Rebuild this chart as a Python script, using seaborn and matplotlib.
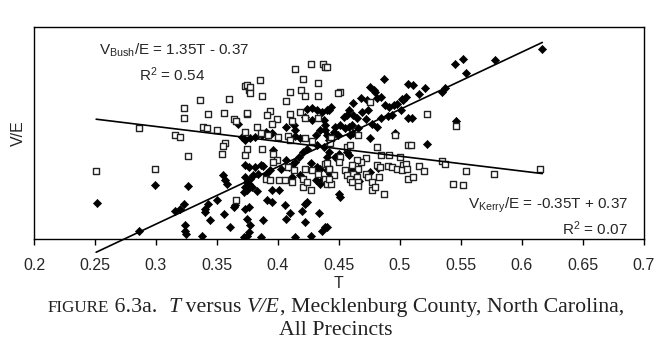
import numpy as np
import pandas as pd
import matplotlib
matplotlib.use("Agg")
import matplotlib.pyplot as plt
import seaborn as sns

# ---- data ----
bush_t = [0.252, 0.299, 0.286, 0.367, 0.371, 0.373, 0.373, 0.355, 0.357, 0.358,
          0.326, 0.373, 0.375, 0.373, 0.372, 0.350, 0.343, 0.340, 0.340, 0.323,
          0.316, 0.320, 0.364, 0.365, 0.356, 0.344, 0.324, 0.324, 0.325, 0.361,
          0.373, 0.375, 0.338, 0.372, 0.375, 0.424, 0.428, 0.432, 0.436, 0.440,
          0.422, 0.428, 0.438, 0.439, 0.407, 0.413, 0.414, 0.390, 0.392, 0.395,
          0.387, 0.377, 0.381, 0.414, 0.418, 0.431, 0.435, 0.439, 0.424, 0.421,
          0.417, 0.414, 0.412, 0.432, 0.438, 0.376, 0.381, 0.386, 0.388, 0.384,
          0.380, 0.377, 0.376, 0.379, 0.375, 0.390, 0.394, 0.407, 0.409, 0.403,
          0.427, 0.432, 0.435, 0.418, 0.412, 0.431, 0.435, 0.436, 0.395, 0.401,
          0.391, 0.395, 0.376, 0.406, 0.410, 0.420, 0.422, 0.424, 0.434, 0.388,
          0.422, 0.377, 0.376, 0.386, 0.407, 0.414, 0.427, 0.436, 0.439, 0.487,
          0.507, 0.511, 0.476, 0.479, 0.480, 0.468, 0.473, 0.481, 0.485, 0.488,
          0.491, 0.495, 0.498, 0.502, 0.505, 0.503, 0.444, 0.442, 0.458, 0.454,
          0.457, 0.462, 0.465, 0.472, 0.469, 0.474, 0.485, 0.490, 0.494, 0.477,
          0.481, 0.461, 0.458, 0.455, 0.451, 0.447, 0.446, 0.449, 0.444, 0.442,
          0.440, 0.466, 0.496, 0.507, 0.476, 0.457, 0.458, 0.450, 0.447, 0.440,
          0.442, 0.461, 0.464, 0.440, 0.443, 0.450, 0.451, 0.440, 0.516, 0.521,
          0.537, 0.535, 0.545, 0.552, 0.554, 0.510, 0.522, 0.546, 0.578, 0.617,
          0.396, 0.383, 0.459, 0.462, 0.482, 0.476, 0.467, 0.462, 0.501]
bush_v = [0.085, 0.128, 0.020, 0.272, 0.241, 0.233, 0.174, 0.150, 0.138, 0.130,
          0.126, 0.146, 0.134, 0.122, 0.111, 0.091, 0.083, 0.071, 0.063, 0.083,
          0.067, 0.071, 0.075, 0.079, 0.058, 0.044, 0.032, 0.020, 0.012, 0.028,
          0.071, 0.048, 0.008, 0.004, 0.008, 0.305, 0.308, 0.304, 0.300, 0.304,
          0.288, 0.280, 0.280, 0.268, 0.264, 0.268, 0.256, 0.252, 0.247, 0.249,
          0.245, 0.237, 0.241, 0.242, 0.237, 0.245, 0.256, 0.256, 0.213, 0.205,
          0.193, 0.182, 0.174, 0.221, 0.217, 0.170, 0.170, 0.174, 0.171, 0.154,
          0.150, 0.142, 0.130, 0.122, 0.115, 0.154, 0.162, 0.186, 0.170, 0.166,
          0.178, 0.170, 0.164, 0.150, 0.146, 0.138, 0.130, 0.138, 0.115, 0.115,
          0.091, 0.087, 0.075, 0.079, 0.061, 0.067, 0.083, 0.087, 0.061, 0.044,
          0.040, 0.032, 0.016, 0.004, 0.048, 0.004, 0.008, 0.020, 0.028, 0.376,
          0.365, 0.362, 0.359, 0.351, 0.347, 0.331, 0.327, 0.331, 0.335, 0.316,
          0.312, 0.316, 0.318, 0.329, 0.334, 0.327, 0.312, 0.304, 0.304, 0.288,
          0.292, 0.292, 0.284, 0.282, 0.300, 0.304, 0.284, 0.290, 0.292, 0.272,
          0.264, 0.268, 0.264, 0.261, 0.268, 0.264, 0.252, 0.245, 0.241, 0.233,
          0.245, 0.261, 0.249, 0.284, 0.237, 0.205, 0.197, 0.201, 0.193, 0.193,
          0.205, 0.162, 0.154, 0.162, 0.154, 0.107, 0.099, 0.028, 0.341, 0.355,
          0.355, 0.347, 0.412, 0.424, 0.392, 0.284, 0.223, 0.278, 0.422, 0.447,
          0.209, 0.112, 0.245, 0.249, 0.168, 0.158, 0.137, 0.320, 0.304]

kerry_t = [0.286, 0.251, 0.299, 0.373, 0.376, 0.336, 0.360, 0.323, 0.323, 0.343,
           0.356, 0.364, 0.366, 0.375, 0.339, 0.342, 0.350, 0.316, 0.320, 0.373,
           0.357, 0.355, 0.326, 0.354, 0.373, 0.366, 0.414, 0.427, 0.437, 0.439,
           0.421, 0.433, 0.385, 0.375, 0.377, 0.377, 0.387, 0.410, 0.419, 0.422,
           0.433, 0.407, 0.375, 0.394, 0.391, 0.399, 0.395, 0.410, 0.418, 0.422,
           0.433, 0.383, 0.386, 0.392, 0.400, 0.412, 0.408, 0.410, 0.422, 0.428,
           0.375, 0.387, 0.396, 0.399, 0.396, 0.408, 0.413, 0.422, 0.428, 0.439,
           0.442, 0.390, 0.394, 0.401, 0.406, 0.412, 0.421, 0.421, 0.427, 0.424,
           0.433, 0.439, 0.440, 0.440, 0.451, 0.449, 0.476, 0.444, 0.443, 0.466,
           0.457, 0.459, 0.481, 0.496, 0.507, 0.472, 0.468, 0.465, 0.451, 0.450,
           0.440, 0.442, 0.485, 0.491, 0.500, 0.461, 0.466, 0.462, 0.465, 0.472,
           0.481, 0.484, 0.490, 0.494, 0.498, 0.503, 0.502, 0.507, 0.455, 0.457,
           0.459, 0.446, 0.444, 0.442, 0.474, 0.477, 0.483, 0.461, 0.466, 0.466,
           0.477, 0.480, 0.487, 0.522, 0.546, 0.509, 0.505, 0.506, 0.511, 0.516,
           0.520, 0.535, 0.537, 0.554, 0.544, 0.552, 0.577, 0.615]
kerry_v = [0.261, 0.160, 0.164, 0.361, 0.351, 0.327, 0.329, 0.308, 0.286, 0.294,
           0.296, 0.282, 0.278, 0.294, 0.264, 0.261, 0.256, 0.245, 0.241, 0.252,
           0.225, 0.219, 0.196, 0.200, 0.197, 0.091, 0.401, 0.413, 0.413, 0.406,
           0.377, 0.367, 0.375, 0.363, 0.357, 0.345, 0.337, 0.346, 0.351, 0.337,
           0.337, 0.326, 0.296, 0.301, 0.292, 0.282, 0.272, 0.294, 0.300, 0.284,
           0.284, 0.263, 0.249, 0.245, 0.241, 0.278, 0.243, 0.233, 0.237, 0.230,
           0.211, 0.213, 0.201, 0.186, 0.182, 0.170, 0.162, 0.166, 0.162, 0.176,
           0.164, 0.142, 0.138, 0.138, 0.138, 0.134, 0.142, 0.122, 0.115, 0.134,
           0.154, 0.142, 0.130, 0.406, 0.347, 0.343, 0.323, 0.237, 0.225, 0.245,
           0.217, 0.221, 0.217, 0.245, 0.221, 0.190, 0.182, 0.186, 0.193, 0.182,
           0.178, 0.166, 0.197, 0.197, 0.193, 0.174, 0.166, 0.154, 0.146, 0.154,
           0.174, 0.170, 0.171, 0.170, 0.166, 0.174, 0.162, 0.142, 0.162, 0.150,
           0.142, 0.150, 0.130, 0.142, 0.146, 0.134, 0.146, 0.134, 0.134, 0.126,
           0.115, 0.122, 0.107, 0.294, 0.266, 0.221, 0.176, 0.164, 0.146, 0.171,
           0.160, 0.184, 0.176, 0.160, 0.130, 0.128, 0.154, 0.164]

bush_fit = [1.35, -0.37]     # slope, intercept
kerry_fit = [-0.35, 0.37]
bush_r2 = "0.54"
kerry_r2 = "0.07"
x_ticks = [0.2, 0.25, 0.3, 0.35, 0.4, 0.45, 0.5, 0.55, 0.6, 0.65, 0.7]
x_tick_labels = ["0.2", "0.25", "0.3", "0.35", "0.4", "0.45", "0.5",
                 "0.55", "0.6", "0.65", "0.7"]

# ---- style ----
sns.set_theme(style="white")
plt.rcParams['font.family'] = ['Liberation Sans', 'DejaVu Sans']
plt.rcParams['mathtext.default'] = 'regular'

W, H = 664, 359
fig = plt.figure(figsize=(W / 100, H / 100), dpi=100)
ax_left, ax_right, ax_top, ax_bottom = 34, 643.5, 26.7, 239
ax = fig.add_axes([ax_left / W, 1 - ax_bottom / H,
                   (ax_right - ax_left) / W, (ax_bottom - ax_top) / H])

bush_df = pd.DataFrame({"T": bush_t, "V/E": bush_v})
kerry_df = pd.DataFrame({"T": kerry_t, "V/E": kerry_v})

sns.scatterplot(data=bush_df, x="T", y="V/E", marker="D", s=17,
                color="black", edgecolor="black", linewidth=0.5, ax=ax, zorder=3)
sns.scatterplot(data=kerry_df, x="T", y="V/E", marker="s", s=19,
                facecolor="white", edgecolor="#222222", linewidth=1.0, ax=ax, zorder=4)

t_all = np.array(bush_t + kerry_t)
t_line = np.array([t_all.min(), t_all.max()])
fit_df = pd.DataFrame({
    "T": np.concatenate([t_line, t_line]),
    "V/E": np.concatenate([bush_fit[0] * t_line + bush_fit[1],
                           kerry_fit[0] * t_line + kerry_fit[1]]),
    "series": ["Bush"] * 2 + ["Kerry"] * 2,
})
for name, sub in fit_df.groupby("series"):
    ax.plot(sub["T"], sub["V/E"], color="black", lw=1.2, zorder=5,
            clip_on=False)

ax.set_xlim(0.2, 0.7)
ax.set_ylim(0, 0.5)
ax.set_xticks(x_ticks)
ax.set_xticklabels(x_tick_labels, fontsize=11.5)
ax.set_yticks([])
ax.tick_params(axis="x", direction="out", length=4, width=1, color="black",
               pad=9.5, bottom=True)
for sp in ax.spines.values():
    sp.set_visible(True)
    sp.set_color("black")
    sp.set_linewidth(1.0)
ax.set_xlabel("T", fontsize=11.5, labelpad=2)
ax.set_ylabel("V/E", fontsize=11.5, labelpad=6)

# regression annotations
ax.text(99 / W, 1 - 50 / H, r"V$_{Bush}$/E = 1.35T - 0.37",
        transform=fig.transFigure, fontsize=11, ha="left", va="center")
ax.text(139 / W, 1 - 75 / H, r"R$^{2}$ = " + bush_r2,
        transform=fig.transFigure, fontsize=11, ha="left", va="center")
ax.text(628 / W, 1 - 205 / H, r"V$_{Kerry}$/E = -0.35T + 0.37",
        transform=fig.transFigure, fontsize=11, ha="right", va="center")
ax.text(628 / W, 1 - 229 / H, r"R$^{2}$ = " + kerry_r2,
        transform=fig.transFigure, fontsize=11, ha="right", va="center")

# caption (small caps "FIGURE", italic T and V/E)
serif = ['Liberation Serif', 'DejaVu Serif']
line1 = [("FIGURE", "normal", 0.78), (" 6.3a.  ", "normal", 1.0),
         ("T", "italic", 1.0), (" versus ", "normal", 1.0),
         ("V/E", "italic", 1.0), (", Mecklenburg County, North Carolina,", "normal", 1.0)]
line2 = [("All Precincts", "normal", 1.0)]


def place(pieces, ybase, fs, target=None):
    texts = [fig.text(0, 1 - ybase / H, s, fontsize=fs * sc, style=st,
                      family=serif, color="#222222", va="baseline", ha="left")
             for s, st, sc in pieces]
    fig.canvas.draw()
    r = fig.canvas.get_renderer()
    widths = [t.get_window_extent(r).width for t in texts]
    k = 1.0
    if target is not None:
        k = target / sum(widths)
        for t, (s, st, sc) in zip(texts, pieces):
            t.set_fontsize(fs * sc * k)
        fig.canvas.draw()
        widths = [t.get_window_extent(r).width for t in texts]
    x = (W - sum(widths)) / 2 + 4
    for t, w in zip(texts, widths):
        t.set_x(x / W)
        x += w
    return fs * k


fs1 = place(line1, 312, 12, target=574)
place(line2, 335, fs1)

fig.savefig("out.png", dpi=100)
